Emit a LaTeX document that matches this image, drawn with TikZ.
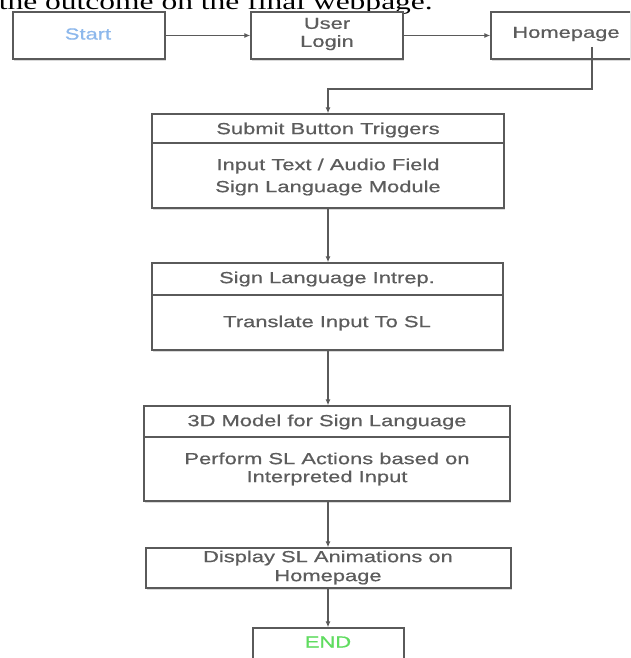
\documentclass[tikz,border=0pt]{standalone}
\usepackage{fontspec}
\setmainfont{Liberation Sans}
\newfontfamily\boxfont[FakeStretch=1.37,FakeBold=0.6]{Liberation Sans}
\newfontfamily\headfont[FakeStretch=1.37]{Liberation Serif}
\usetikzlibrary{arrows.meta,shadows}
\definecolor{linegray}{HTML}{5A5A5A}
\definecolor{txtgray}{HTML}{5C5C5C}
\definecolor{startblue}{HTML}{8DB8EC}
\definecolor{endgreen}{HTML}{5FDC5F}
\tikzset{
  flowbox/.style={draw=linegray, line width=1.3pt, fill=white, inner sep=0pt,
    drop shadow={shadow xshift=0.6pt, shadow yshift=-1.6pt, opacity=0.3}},
  lbl/.style={font=\boxfont\fontsize{16}{18}\selectfont, text=txtgray, align=center, inner sep=0pt},
  conn/.style={draw=linegray, line width=1.2pt, -{Latex[length=6pt,width=5pt]}},
  divider/.style={draw=linegray, line width=1.3pt}
}
\begin{document}
\begin{tikzpicture}[x=1pt,y=-1pt]
\useasboundingbox (0,0) rectangle (630,658);
\clip (0,0) rectangle (630,658);
% heading text (cut at top, as in the reference)
\node[font=\headfont\fontsize{23}{25}\selectfont, anchor=base east, inner sep=0pt] (head) at (433,9.5) {the outcome on the final webpage.};
% boxes
\node[flowbox, minimum width=152pt, minimum height=47pt] (start) at (89,35.5) {};
\node[flowbox, minimum width=152pt, minimum height=47pt] (login) at (327,35.5) {};
\node[flowbox, minimum width=140pt, minimum height=47pt] (home) at (561,35.5) {};
\node[flowbox, minimum width=352pt, minimum height=94pt] (submit) at (328,161) {};
\node[flowbox, minimum width=351pt, minimum height=87pt] (intrep) at (327.5,306.5) {};
\node[flowbox, minimum width=366pt, minimum height=95pt] (model) at (327,453.5) {};
\node[flowbox, minimum width=365pt, minimum height=40pt] (display) at (328.5,568) {};
\node[flowbox, minimum width=151pt, minimum height=42pt] (end) at (328.5,649) {};
% dividers
\draw[divider] (submit.west |- 0,143) -- (submit.east |- 0,143);
\draw[divider] (intrep.west |- 0,295) -- (intrep.east |- 0,295);
\draw[divider] (model.west |- 0,437) -- (model.east |- 0,437);
% texts
\node[lbl, text=startblue] (tstart) at (88,34) {Start};
\node[lbl] (tlogin) at (327,34) {User\\Login};
\node[lbl] (thome) at (566,34) {Homepage};
\node[lbl] (tsubmit) at (328,130) {Submit Button Triggers};
\node[lbl, font=\boxfont\fontsize{16}{22}\selectfont] (tinput) at (328,177) {Input Text / Audio Field\\Sign Language Module};
\node[lbl] (tintrep) at (327,279) {Sign Language Intrep.};
\node[lbl] (ttrans) at (327,323) {Translate Input To SL};
\node[lbl] (tmodel) at (327,422) {3D Model for Sign Language};
\node[lbl] (tperf) at (327,469) {Perform SL Actions based on\\Interpreted Input};
\node[lbl, font=\boxfont\fontsize{16}{19}\selectfont] (tdisp) at (328,567.5) {Display SL Animations on\\Homepage};
\node[lbl, text=endgreen] (tend) at (328,642) {END};
% connectors
\coordinate (ax) at (328,0);
\coordinate (hstart) at (592,47);
\draw[conn] (start.east) -- (login.west);
\draw[conn] (login.east) -- (home.west);
\draw[conn] (hstart) |- (328,89) -- (submit.north -| ax);
\draw[conn] (submit.south -| ax) -- (intrep.north -| ax);
\draw[conn] (intrep.south -| ax) -- (model.north -| ax);
\draw[conn] (model.south -| ax) -- (display.north -| ax);
\draw[conn] (display.south -| ax) -- (end.north -| ax);
\end{tikzpicture}
\end{document}
